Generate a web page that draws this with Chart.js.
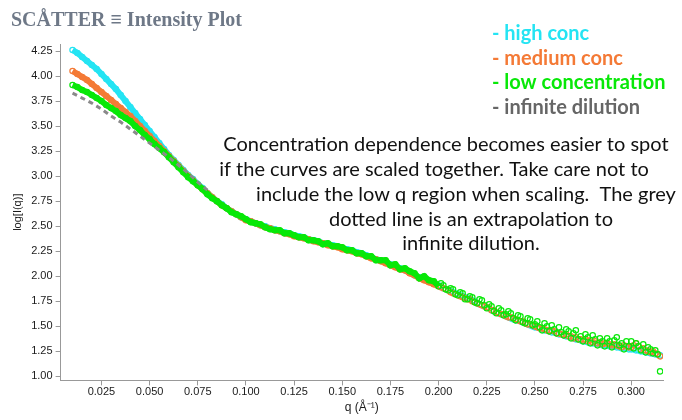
<!DOCTYPE html>
<html>
<head>
<meta charset="utf-8">
<script src="https://cdn.jsdelivr.net/npm/chart.js@4.4.1/dist/chart.umd.min.js"></script>
<style>
    html, body { margin: 0; padding: 0; background: #fff; }
</style>
</head>
<body>
<canvas id="grafico" width="682" height="420"></canvas>
<script>
// q values shared by the three measured curves (finer above 0.2 where the data gets noisy)
var qValues = [
    0.0100,0.0125,0.0150,0.0175,0.0200,0.0225,0.0250,0.0275,0.0300,0.0325,
    0.0350,0.0375,0.0400,0.0425,0.0450,0.0475,0.0500,0.0525,0.0550,0.0575,
    0.0600,0.0625,0.0650,0.0675,0.0700,0.0725,0.0750,0.0775,0.0800,0.0825,
    0.0850,0.0875,0.0900,0.0925,0.0950,0.0975,0.1000,0.1025,0.1050,0.1075,
    0.1100,0.1125,0.1150,0.1175,0.1200,0.1225,0.1250,0.1275,0.1300,0.1325,
    0.1350,0.1375,0.1400,0.1425,0.1450,0.1475,0.1500,0.1525,0.1550,0.1575,
    0.1600,0.1625,0.1650,0.1675,0.1700,0.1725,0.1750,0.1775,0.1800,0.1825,
    0.1850,0.1875,0.1900,0.1925,0.1950,0.1975,
    0.20000,0.20125,0.20250,0.20375,0.20500,0.20625,0.20750,0.20875,0.21000,0.21125,
    0.21250,0.21375,0.21500,0.21625,0.21750,0.21875,0.22000,0.22125,0.22250,0.22375,
    0.22500,0.22625,0.22750,0.22875,0.23000,0.23125,0.23250,0.23375,0.23500,0.23625,
    0.23750,0.23875,0.24000,0.24125,0.24250,0.24375,0.24500,0.24625,0.24750,0.24875,
    0.25000,0.25125,0.25250,0.25375,0.25500,0.25625,0.25750,0.25875,0.26000,0.26125,
    0.26250,0.26375,0.26500,0.26625,0.26750,0.26875,0.27000,0.27125,0.27250,0.27375,
    0.27500,0.27625,0.27750,0.27875,0.28000,0.28125,0.28250,0.28375,0.28500,0.28625,
    0.28750,0.28875,0.29000,0.29125,0.29250,0.29375,0.29500,0.29625,0.29750,0.29875,
    0.30000,0.30125,0.30250,0.30375,0.30500,0.30625,0.30750,0.30875,0.31000,0.31125,
    0.31250,0.31375,0.31500
];

var highConc = [
    4.26,4.23,4.19,4.15,4.11,4.07,4.02,3.97,3.92,3.87,
    3.81,3.75,3.69,3.63,3.57,3.51,3.45,3.39,3.33,3.27,
    3.21,3.16,3.11,3.06,3.01,2.97,2.92,2.88,2.83,2.79,
    2.75,2.72,2.68,2.65,2.62,2.59,2.57,2.55,2.53,2.51,
    2.50,2.48,2.47,2.45,2.44,2.43,2.41,2.40,2.39,2.37,
    2.36,2.35,2.33,2.32,2.31,2.30,2.28,2.27,2.26,2.24,
    2.23,2.21,2.19,2.17,2.16,2.14,2.12,2.10,2.08,2.06,
    2.04,2.01,1.99,1.97,1.95,1.93,
    1.91,1.90,1.88,1.87,1.86,1.85,1.84,1.83,1.82,1.81,
    1.80,1.79,1.78,1.77,1.76,1.75,1.73,1.72,1.71,1.70,
    1.69,1.68,1.66,1.65,1.64,1.63,1.62,1.61,1.60,1.59,
    1.58,1.57,1.56,1.56,1.55,1.54,1.53,1.52,1.51,1.50,
    1.49,1.49,1.48,1.47,1.46,1.46,1.45,1.44,1.44,1.43,
    1.42,1.42,1.41,1.40,1.40,1.39,1.38,1.37,1.37,1.36,
    1.35,1.35,1.34,1.34,1.33,1.33,1.32,1.32,1.31,1.31,
    1.31,1.30,1.30,1.30,1.29,1.29,1.28,1.28,1.28,1.27,
    1.27,1.27,1.26,1.26,1.25,1.25,1.24,1.24,1.23,1.23,
    1.22,1.22,1.21
];

var mediumConc = [
    4.05,4.02,3.99,3.96,3.92,3.88,3.84,3.80,3.76,3.72,
    3.68,3.64,3.60,3.55,3.50,3.45,3.40,3.35,3.30,3.25,
    3.20,3.15,3.10,3.05,3.00,2.96,2.91,2.87,2.83,2.79,
    2.75,2.71,2.68,2.65,2.62,2.59,2.56,2.55,2.53,2.51,
    2.49,2.48,2.46,2.45,2.43,2.42,2.40,2.39,2.38,2.37,
    2.35,2.34,2.33,2.31,2.30,2.29,2.27,2.26,2.25,2.23,
    2.22,2.20,2.18,2.17,2.15,2.13,2.11,2.09,2.07,2.06,
    2.03,2.01,1.98,1.96,1.94,1.92,
    1.90,1.89,1.88,1.87,1.86,1.84,1.83,1.82,1.81,1.80,
    1.79,1.78,1.77,1.77,1.75,1.74,1.73,1.72,1.71,1.70,
    1.69,1.68,1.66,1.66,1.64,1.63,1.62,1.62,1.60,1.59,
    1.59,1.58,1.57,1.56,1.55,1.55,1.53,1.52,1.52,1.51,
    1.50,1.49,1.48,1.48,1.47,1.46,1.45,1.46,1.45,1.43,
    1.43,1.42,1.41,1.42,1.40,1.40,1.38,1.39,1.37,1.37,
    1.36,1.37,1.35,1.36,1.34,1.35,1.33,1.34,1.32,1.33,
    1.33,1.32,1.31,1.32,1.31,1.30,1.29,1.31,1.30,1.29,
    1.29,1.31,1.33,1.30,1.27,1.28,1.26,1.25,1.24,1.25,
    1.23,1.22,1.20
];

var lowConc = [
    3.91,3.89,3.86,3.84,3.81,3.78,3.75,3.71,3.68,3.65,
    3.61,3.58,3.55,3.50,3.46,3.41,3.37,3.32,3.28,3.24,
    3.19,3.14,3.09,3.04,2.99,2.95,2.91,2.87,2.82,2.78,
    2.75,2.71,2.68,2.64,2.62,2.60,2.57,2.54,2.53,2.52,
    2.49,2.47,2.46,2.46,2.43,2.43,2.41,2.39,2.39,2.36,
    2.36,2.35,2.32,2.33,2.30,2.30,2.29,2.26,2.26,2.23,
    2.23,2.20,2.20,2.16,2.16,2.16,2.11,2.12,2.07,2.08,
    2.05,2.03,1.98,2.00,1.96,1.95,
    1.90,1.93,1.91,1.87,1.86,1.88,1.87,1.82,1.81,1.84,
    1.83,1.77,1.77,1.80,1.79,1.74,1.73,1.77,1.76,1.71,
    1.68,1.72,1.70,1.65,1.63,1.68,1.66,1.61,1.62,1.65,
    1.63,1.58,1.56,1.61,1.60,1.54,1.53,1.58,1.57,1.51,
    1.52,1.55,1.49,1.46,1.53,1.50,1.45,1.51,1.47,1.43,
    1.49,1.44,1.41,1.47,1.45,1.38,1.43,1.46,1.37,1.40,
    1.35,1.42,1.39,1.33,1.41,1.37,1.31,1.38,1.35,1.30,
    1.38,1.35,1.29,1.36,1.39,1.31,1.33,1.27,1.35,1.30,
    1.35,1.28,1.33,1.30,1.26,1.32,1.24,1.29,1.27,1.23,
    1.26,1.22,1.05
];

// extrapolation to infinite dilution (grey dotted line)
var qDilution = [0.010,0.015,0.020,0.025,0.030,0.035,0.040,0.045,0.050,0.055,0.060,0.065,0.070,0.075,0.080];
var infiniteDilution = [3.83,3.78,3.73,3.67,3.60,3.54,3.47,3.40,3.33,3.26,3.19,3.11,3.03,2.94,2.86];

var seriesNames = ['high conc', 'medium conc', 'low concentration', 'infinite dilution'];
var xTicks = [0.025,0.050,0.075,0.100,0.125,0.150,0.175,0.200,0.225,0.250,0.275,0.300];
var yTicks = [1.00,1.25,1.50,1.75,2.00,2.25,2.50,2.75,3.00,3.25,3.50,3.75,4.00,4.25];

var chartTitle = 'SCÅTTER ≡ Intensity Plot';
var noteLines = [
    'Concentration dependence becomes easier to spot',
    'if the curves are scaled together. Take care not to',
    'include the low q region when scaling.  The grey',
    'dotted line is an extrapolation to',
    'infinite dilution.'
];

var cyan = '#24e4f3';
var orange = '#f47a36';
var green = '#08e808';
var grey = '#8a8a8a';
var legendColors = [cyan, orange, green, '#666666'];

function toPoints(xs, ys){
    var pts = [];
    for(var i = 0; i < xs.length; i++){
        pts.push({x: xs[i], y: ys[i]});
    }
    return pts;
}

function measuredSet(label, values, color){
    return {
        label: label,
        data: toPoints(qValues, values),
        showLine: true,
        borderColor: color,
        borderWidth: 6,
        segment: {
            // solid band where the data is smooth, loose circles once it gets noisy
            borderColor: function(s){ return s.p1.parsed.x > 0.2 ? 'rgba(0,0,0,0)' : color; }
        },
        pointStyle: 'circle',
        pointRadius: 2.7,
        pointBorderWidth: 1.2,
        pointBorderColor: color,
        pointBackgroundColor: 'rgba(255,255,255,0)'
    };
}

var textPlugin = {
    id: 'textos',
    afterDraw: function(chart){
        var c = chart.ctx;
        c.save();
        c.textAlign = 'left';
        c.textBaseline = 'alphabetic';
        c.font = 'bold 20px "Liberation Serif"';
        c.fillStyle = '#6e7887';
        c.fillText(chartTitle, 11, 26);

        c.textBaseline = 'middle';
        c.font = 'bold 20px Lato';
        for(var i = 0; i < seriesNames.length; i++){
            c.fillStyle = legendColors[i];
            c.fillText('- ' + seriesNames[i], 492, 34 + i * 24.5);
        }

        c.font = '20px Lato';
        c.fillStyle = '#111111';
        c.textAlign = 'center';
        var centers = [446, 434, 466, 471, 471];
        for(var j = 0; j < noteLines.length; j++){
            c.fillText(noteLines[j], centers[j], 145 + j * 24.7);
        }
        c.restore();
    }
};

var axisFont = {family: 'Liberation Sans', size: 11};

new Chart(document.getElementById('grafico'), {
    type: 'scatter',
    data: {
        datasets: [
            {
                label: seriesNames[3],
                data: toPoints(qDilution, infiniteDilution),
                showLine: true,
                borderColor: grey,
                borderWidth: 3,
                borderDash: [5, 4],
                pointRadius: 0
            },
            measuredSet(seriesNames[2], lowConc, green),
            measuredSet(seriesNames[1], mediumConc, orange),
            measuredSet(seriesNames[0], highConc, cyan)
        ]
    },
    options: {
        responsive: false,
        animation: false,
        layout: { padding: { left: 9, right: 19, top: 44, bottom: 5 } },
        plugins: {
            legend: { display: false },
            tooltip: { enabled: false }
        },
        scales: {
            x: {
                type: 'linear',
                min: 0.0038,
                max: 0.3165,
                afterBuildTicks: function(axis){
                    axis.ticks = xTicks.map(function(v){ return {value: v}; });
                },
                ticks: {
                    padding: 0,
                    color: '#1a1a1a',
                    font: axisFont,
                    maxRotation: 0,
                    callback: function(value){ return value.toFixed(3); }
                },
                grid: { drawOnChartArea: false, tickLength: 5, color: '#999999' },
                border: { color: '#999999' },
                title: {
                    display: true,
                    text: 'q (Å⁻¹)',
                    color: '#1a1a1a',
                    font: {family: 'Liberation Sans', size: 12},
                    padding: {top: 2, bottom: 0}
                }
            },
            y: {
                type: 'linear',
                min: 0.96,
                max: 4.32,
                afterBuildTicks: function(axis){
                    axis.ticks = yTicks.map(function(v){ return {value: v}; });
                },
                ticks: {
                    padding: 3,
                    color: '#1a1a1a',
                    font: axisFont,
                    callback: function(value){ return value.toFixed(2); }
                },
                grid: { drawOnChartArea: false, tickLength: 5, color: '#999999' },
                border: { color: '#999999' },
                title: {
                    display: true,
                    text: 'log[I(q)]',
                    color: '#1a1a1a',
                    font: {family: 'Liberation Sans', size: 11},
                    padding: {top: 2, bottom: 4}
                }
            }
        }
    },
    plugins: [textPlugin]
});
</script>
</body>
</html>
